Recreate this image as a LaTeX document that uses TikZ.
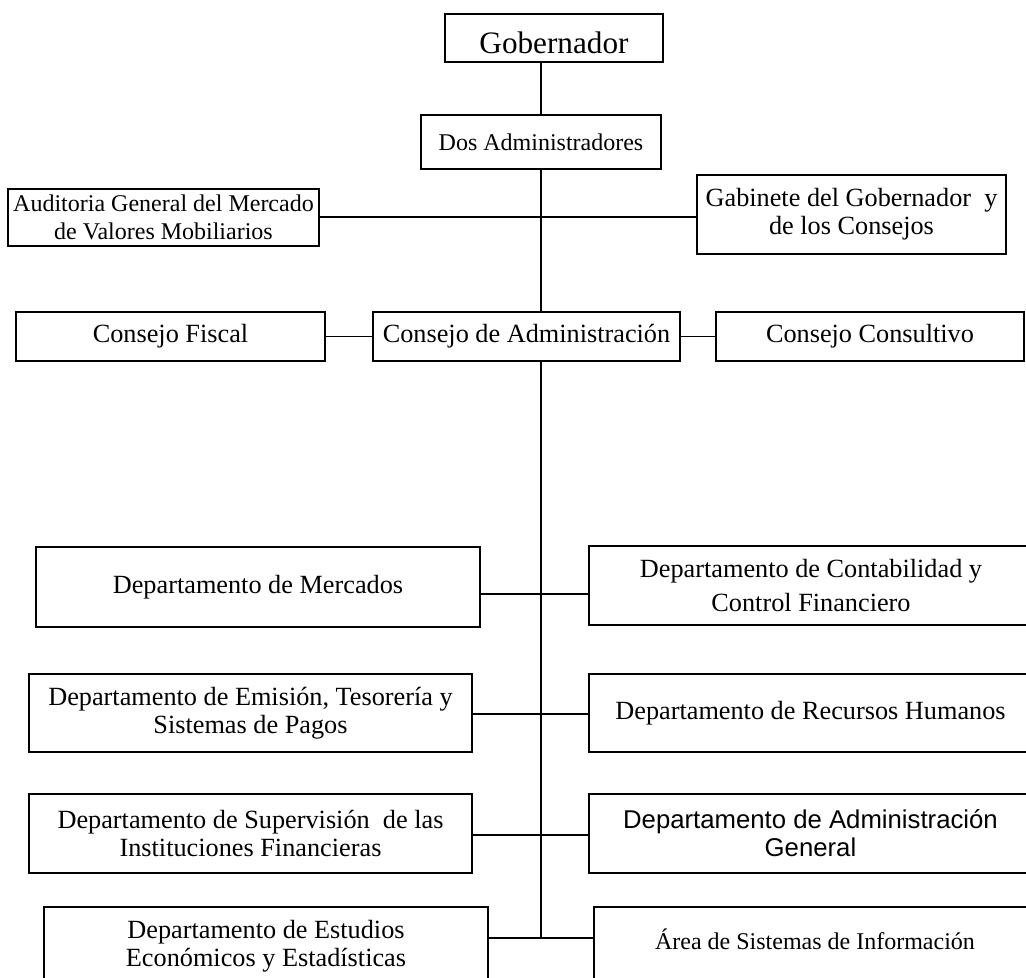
\documentclass[tikz,border=0pt]{standalone}
\usepackage{fontspec}
\setmainfont{Liberation Serif}
\newfontfamily\sansfam{Liberation Sans}
\newcommand\fgob{\fontsize{23.4pt}{28pt}\selectfont}
\newcommand\fsm{\fontsize{18pt}{20.5pt}\selectfont}
\newcommand\fmd{\fontsize{19.7pt}{21.2pt}\selectfont}
\newcommand\fmdl{\fontsize{19.7pt}{25pt}\selectfont}
\newcommand\fdos{\fontsize{18pt}{20pt}\selectfont}
\newcommand\fadm{\sansfam\fontsize{19.3pt}{21.2pt}\selectfont}
\tikzset{
  orgbox/.style={draw, line width=1.4pt, inner sep=0pt, outer sep=0pt, align=center},
  orglink/.style={line width=1.1pt},
  orgtext/.style={inner sep=0pt, align=center}
}
% name, x1, y1, x2, y2, font, text
\newcommand\obox[7]{%
  \node[orgbox, font=#6, minimum width={(#4-#2)*0.75pt}, minimum height={(#5-#3)*0.75pt}]
    (#1) at ({(#2+#4)/2},{(#3+#5)/2}) {#7};}
\begin{document}
\begin{tikzpicture}[x=0.75pt, y=-0.75pt]
\useasboundingbox (0,0) rectangle (1026,978);
\clip (0,0) rectangle (1026,978);
% boxes
\node[orgbox, font=\fgob, minimum width={218*0.75pt}, minimum height={48*0.75pt},
      text height=29.25pt, text depth=6.75pt] (gob) at (554,38) {Gobernador};
\obox{dos}{421}{115}{661}{169}{\fdos}{Dos Administradores}
\obox{aud}{8}{189}{319}{246}{\fsm}{Auditoria General del Mercado\\de Valores Mobiliarios}
\obox{gab}{697}{175}{1006}{254}{\fmd}{Gabinete del Gobernador~~y\\de los Consejos}
\obox{fis}{16}{312}{325}{361}{\fmd}{Consejo Fiscal}
\obox{cda}{373}{312}{680}{361}{\fmd}{Consejo de Administración}
\obox{con}{716}{312}{1024}{361}{\fmd}{Consejo Consultivo}
\obox{mer}{36}{547}{480}{627}{\fmd}{Departamento de Mercados}
\obox{cont}{589}{546}{1033}{625}{\fmdl}{Departamento de Contabilidad y\\Control Financiero}
\obox{emi}{29}{674}{472}{752}{\fmd}{Departamento de Emisión, Tesorería y\\Sistemas de Pagos}
\obox{rrhh}{589}{674}{1032}{752}{\fmd}{Departamento de Recursos Humanos}
\obox{sup}{29}{794}{472}{873}{\fmd}{Departamento de Supervisión~~de las\\Instituciones Financieras}
\obox{adm}{589}{794}{1032}{873}{\fadm}{Departamento de Administración\\General}
\obox{estbox}{44}{907}{488}{998}{\fmd}{}
\obox{areabox}{594}{907}{1036}{998}{\fsm}{}
\node[orgtext, font=\fmd] (est) at (266,946) {Departamento de Estudios\\Económicos y Estadísticas};
\node[orgtext, font=\fsm] (area) at (815,939) {Área de Sistemas de Información};
% connectors
\coordinate (hA) at (541,217);
\coordinate (h1) at (541,594);
\coordinate (h2) at (541,714);
\coordinate (h3) at (541,835);
\coordinate (spineEnd) at (541,938);
\draw[orglink] (dos.north) -- (dos.north |- gob.south);
\draw[orglink] (dos.south) -- (dos.south |- cda.north);
\draw[orglink] (hA -| aud.east) -- (hA -| gab.west);
\draw[orglink] (fis.east) -- (cda.west);
\draw[orglink] (cda.east) -- (con.west);
\draw[orglink] (cda.south -| dos.south) -- (spineEnd);
\draw[orglink] (h1 -| mer.east) -- (h1 -| cont.west);
\draw[orglink] (h2 -| emi.east) -- (h2 -| rrhh.west);
\draw[orglink] (h3 -| sup.east) -- (h3 -| adm.west);
\draw[orglink] (spineEnd -| estbox.east) -- (spineEnd -| areabox.west);
\end{tikzpicture}
\end{document}
